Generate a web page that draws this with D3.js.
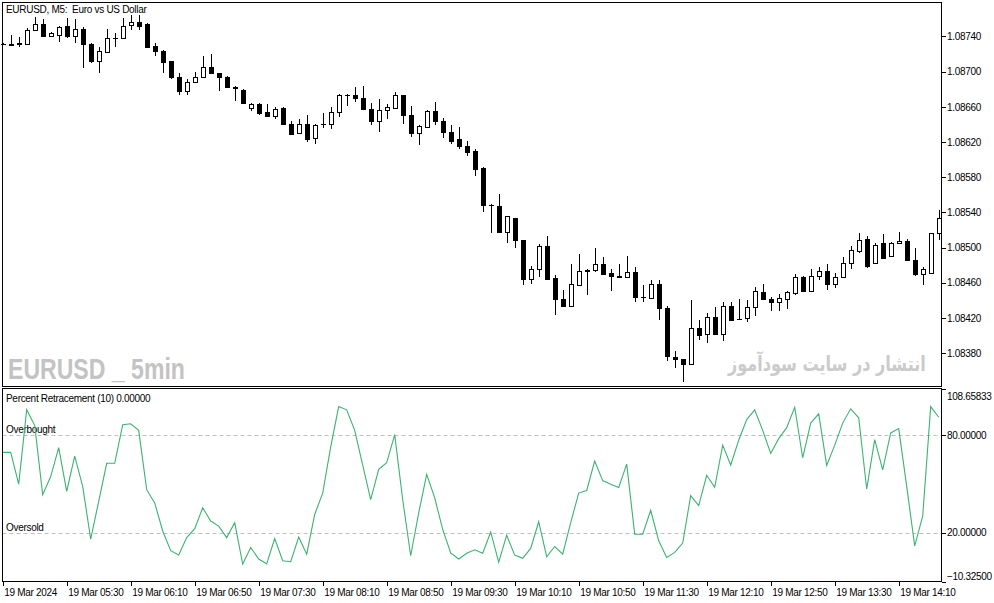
<!DOCTYPE html>
<html>
<head>
<meta charset="utf-8">
<script src="https://cdn.jsdelivr.net/npm/d3@7"></script>
<style>
	body { margin: 0; background: #fff; }
	svg text { font-family: "Liberation Sans", Arial, sans-serif; font-size: 10px; letter-spacing: -0.3px; fill: #000; }
</style>
</head>
<body>
<div class="container"></div>
<script>
var	WIDTH = 994,
	HEIGHT = 603,
	LEFT = 2.5,
	RIGHT = 941.5,
	MAIN_TOP = 2.5,
	MAIN_BOTTOM = 386.5,
	IND_TOP = 388.5,
	IND_BOTTOM = 581.5,
	xScale,
	yPrice,
	yInd;

// EURUSD M5 candles, 19 Mar 2024 04:50 .. 14:35
var openPrices = [
	1.08731, 1.08731, 1.08733, 1.08732, 1.08747, 1.08754, 1.08741, 1.08742, 1.08752, 1.08740,
	1.08748, 1.08731, 1.08712, 1.08722, 1.08738, 1.08738, 1.08753, 1.08756, 1.08754, 1.08729,
	1.08724, 1.08712, 1.08694, 1.08678, 1.08688, 1.08694, 1.08705, 1.08698, 1.08694, 1.08683,
	1.08679, 1.08659, 1.08663, 1.08654, 1.08649, 1.08659, 1.08641, 1.08630, 1.08640, 1.08624,
	1.08640, 1.08640, 1.08654, 1.08674, 1.08674, 1.08670, 1.08657, 1.08644, 1.08656, 1.08659,
	1.08674, 1.08651, 1.08630, 1.08637, 1.08655, 1.08644, 1.08631, 1.08623, 1.08615, 1.08610,
	1.08590, 1.08548, 1.08547, 1.08518, 1.08534, 1.08508, 1.08464, 1.08475, 1.08502, 1.08465,
	1.08442, 1.08433, 1.08457, 1.08474, 1.08474, 1.08481, 1.08471, 1.08468, 1.08466, 1.08472,
	1.08444, 1.08443, 1.08458, 1.08431, 1.08375, 1.08373, 1.08367, 1.08409, 1.08402, 1.08421,
	1.08402, 1.08433, 1.08419, 1.08420, 1.08432, 1.08449, 1.08441, 1.08438, 1.08441, 1.08448,
	1.08467, 1.08450, 1.08468, 1.08473, 1.08458, 1.08467, 1.08482, 1.08496, 1.08510, 1.08482,
	1.08505, 1.08490, 1.08505, 1.08507, 1.08486, 1.08470, 1.08471, 1.08516
];
var highPrices = [
	1.08733, 1.08742, 1.08739, 1.08750, 1.08762, 1.08760, 1.08745, 1.08752, 1.08761, 1.08760,
	1.08751, 1.08733, 1.08728, 1.08748, 1.08744, 1.08761, 1.08764, 1.08764, 1.08755, 1.08733,
	1.08725, 1.08712, 1.08699, 1.08692, 1.08700, 1.08718, 1.08720, 1.08699, 1.08695, 1.08684,
	1.08680, 1.08664, 1.08664, 1.08663, 1.08660, 1.08660, 1.08644, 1.08646, 1.08651, 1.08640,
	1.08653, 1.08660, 1.08675, 1.08675, 1.08682, 1.08684, 1.08664, 1.08669, 1.08663, 1.08677,
	1.08674, 1.08661, 1.08639, 1.08656, 1.08665, 1.08647, 1.08639, 1.08637, 1.08621, 1.08612,
	1.08592, 1.08550, 1.08561, 1.08536, 1.08534, 1.08509, 1.08479, 1.08504, 1.08513, 1.08469,
	1.08452, 1.08481, 1.08493, 1.08476, 1.08500, 1.08489, 1.08476, 1.08481, 1.08490, 1.08478,
	1.08457, 1.08463, 1.08463, 1.08433, 1.08382, 1.08373, 1.08440, 1.08418, 1.08426, 1.08432,
	1.08438, 1.08438, 1.08442, 1.08440, 1.08455, 1.08458, 1.08444, 1.08447, 1.08450, 1.08470,
	1.08468, 1.08476, 1.08478, 1.08481, 1.08471, 1.08489, 1.08502, 1.08517, 1.08513, 1.08505,
	1.08515, 1.08506, 1.08518, 1.08510, 1.08499, 1.08478, 1.08517, 1.08543
];
var lowPrices = [
	1.08730, 1.08730, 1.08728, 1.08730, 1.08747, 1.08740, 1.08739, 1.08734, 1.08738, 1.08733,
	1.08704, 1.08710, 1.08699, 1.08722, 1.08728, 1.08737, 1.08747, 1.08747, 1.08727, 1.08718,
	1.08698, 1.08692, 1.08673, 1.08673, 1.08688, 1.08694, 1.08698, 1.08678, 1.08683, 1.08667,
	1.08664, 1.08655, 1.08651, 1.08649, 1.08646, 1.08639, 1.08628, 1.08630, 1.08620, 1.08618,
	1.08636, 1.08635, 1.08648, 1.08661, 1.08666, 1.08657, 1.08639, 1.08631, 1.08646, 1.08658,
	1.08640, 1.08626, 1.08617, 1.08637, 1.08639, 1.08625, 1.08618, 1.08612, 1.08604, 1.08581,
	1.08540, 1.08516, 1.08518, 1.08505, 1.08500, 1.08457, 1.08458, 1.08467, 1.08464, 1.08423,
	1.08433, 1.08432, 1.08457, 1.08446, 1.08472, 1.08469, 1.08450, 1.08465, 1.08465, 1.08438,
	1.08438, 1.08442, 1.08418, 1.08371, 1.08363, 1.08347, 1.08367, 1.08395, 1.08391, 1.08402,
	1.08394, 1.08418, 1.08419, 1.08415, 1.08422, 1.08441, 1.08428, 1.08428, 1.08430, 1.08446,
	1.08449, 1.08449, 1.08463, 1.08452, 1.08454, 1.08467, 1.08475, 1.08494, 1.08477, 1.08482,
	1.08487, 1.08489, 1.08505, 1.08486, 1.08468, 1.08457, 1.08471, 1.08509
];
var closePrices = [
	1.08731, 1.08732, 1.08731, 1.08747, 1.08754, 1.08740, 1.08744, 1.08751, 1.08741, 1.08749,
	1.08731, 1.08712, 1.08723, 1.08738, 1.08738, 1.08752, 1.08756, 1.08752, 1.08728, 1.08724,
	1.08711, 1.08694, 1.08678, 1.08688, 1.08694, 1.08705, 1.08698, 1.08694, 1.08683, 1.08682,
	1.08664, 1.08663, 1.08653, 1.08649, 1.08657, 1.08640, 1.08629, 1.08640, 1.08623, 1.08639,
	1.08640, 1.08654, 1.08674, 1.08674, 1.08670, 1.08657, 1.08644, 1.08656, 1.08660, 1.08674,
	1.08651, 1.08630, 1.08638, 1.08655, 1.08644, 1.08631, 1.08621, 1.08615, 1.08609, 1.08589,
	1.08548, 1.08548, 1.08518, 1.08536, 1.08508, 1.08464, 1.08476, 1.08502, 1.08464, 1.08442,
	1.08433, 1.08458, 1.08473, 1.08473, 1.08481, 1.08470, 1.08468, 1.08466, 1.08472, 1.08444,
	1.08444, 1.08459, 1.08431, 1.08377, 1.08373, 1.08367, 1.08409, 1.08400, 1.08421, 1.08402,
	1.08433, 1.08418, 1.08419, 1.08432, 1.08450, 1.08441, 1.08438, 1.08443, 1.08449, 1.08467,
	1.08450, 1.08468, 1.08473, 1.08458, 1.08467, 1.08482, 1.08497, 1.08509, 1.08479, 1.08503,
	1.08488, 1.08505, 1.08507, 1.08486, 1.08470, 1.08476, 1.08516, 1.08534
];

// Percent Retracement (10)
var retracement = [
	69.5, 69.5, 49.9, 95.9, 86.2, 43.4, 54.6, 72.5, 45.4, 67.2,
	48.5, 15.9, 39.3, 62.8, 62.8, 86.6, 87.2, 83.1, 46.5, 38.3,
	21.0, 8.8, 6.1, 16.9, 22.4, 35.3, 27.1, 24.0, 16.9, 26.1,
	0.6, 10.8, 3.7, 0.6, 16.3, 2.6, 2.0, 17.3, 6.7, 31.2,
	44.4, 72.9, 97.8, 95.8, 83.1, 61.7, 40.3, 59.1, 63.1, 80.5,
	40.3, 5.7, 32.2, 56.0, 41.4, 22.0, 7.4, 3.7, 7.2, 9.4,
	7.2, 20.4, 1.7, 18.4, 6.1, 4.1, 10.2, 26.7, 5.1, 11.4,
	6.7, 26.1, 44.4, 46.0, 64.2, 52.1, 49.9, 47.9, 62.3, 19.0,
	19.0, 33.8, 14.9, 4.7, 7.8, 13.5, 42.8, 36.7, 55.4, 47.9,
	74.0, 61.7, 77.0, 89.8, 95.8, 83.1, 68.9, 78.0, 84.8, 97.4,
	66.2, 87.6, 93.3, 61.5, 74.0, 87.6, 96.4, 90.9, 46.9, 77.4,
	58.7, 81.5, 84.2, 48.5, 11.8, 30.1, 97.8, 91.2
];

var priceTicks = [1.08380, 1.08420, 1.08460, 1.08500, 1.08540, 1.08580, 1.08620, 1.08660, 1.08700, 1.08740];
var levelTicks = [108.65833, 80, 20, -10.325];
var levelValues = [80, 20];
var levelNames = ['Overbought', 'Oversold'];
var timeTickIdx = [0, 8, 16, 24, 32, 40, 48, 56, 64, 72, 80, 88, 96, 104, 112];
var timeTickLabels = ['19 Mar 2024', '19 Mar 05:30', '19 Mar 06:10', '19 Mar 06:50', '19 Mar 07:30',
	'19 Mar 08:10', '19 Mar 08:50', '19 Mar 09:30', '19 Mar 10:10', '19 Mar 10:50',
	'19 Mar 11:30', '19 Mar 12:10', '19 Mar 12:50', '19 Mar 13:30', '19 Mar 14:10'];

function translate(x, y) {
	return 'translate(' + x + ',' + y + ')';
}

// draw a text and squeeze it horizontally to a given width
function fitText(svg, str, x, y, width, size, family, color) {
	var t = svg.append('text')
		.style('font-size', size + 'px')
		.style('font-weight', 'bold')
		.style('letter-spacing', '0px')
		.style('fill', color)
		.text(str);
	if (family) t.style('font-family', family);
	var w = t.node().getComputedTextLength();
	t.attr('transform', translate(x, y) + ' scale(' + (width / w) + ',1)');
	return t;
}

function createChart() {
	var svg = d3.select('.container').append('svg')
		.attr('width', WIDTH)
		.attr('height', HEIGHT)
		.style('display', 'block');

	xScale = d3.scaleLinear()
		.domain([0, openPrices.length - 1])
		.range([2.7, 938.7]);

	yPrice = d3.scaleLinear()
		.domain([1.083417, 1.087792])
		.range([386.7, 2]);

	yInd = d3.scaleLinear()
		.domain([-10.325, 108.65833])
		.range([581.7, 389]);

	// watermarks
	fitText(svg, 'EURUSD _ 5min', 8, 378.5, 177, 30, null, '#c3c3c3');
	fitText(svg, 'انتشار در سایت سودآموز', 728, 371, 198, 21, '"DejaVu Sans", sans-serif', '#cbcbcb');

	// candles
	var candles = svg.append('g')
		.attr('shape-rendering', 'crispEdges');

	var idx = d3.range(openPrices.length);

	candles.selectAll('.wick')
		.data(idx).enter()
		.append('line')
		.attr('x1', function(i) {return Math.round(xScale(i)) + 0.5})
		.attr('x2', function(i) {return Math.round(xScale(i)) + 0.5})
		.attr('y1', function(i) {return yPrice(highPrices[i])})
		.attr('y2', function(i) {return yPrice(lowPrices[i])})
		.attr('stroke', '#000');

	candles.selectAll('.body')
		.data(idx.filter(function(i) {return openPrices[i] !== closePrices[i]})).enter()
		.append('rect')
		.attr('x', function(i) {return Math.round(xScale(i)) - 1.5})
		.attr('width', 4)
		.attr('y', function(i) {return Math.round(yPrice(Math.max(openPrices[i], closePrices[i]))) + 0.5})
		.attr('height', function(i) {
			return Math.max(1, Math.round(yPrice(Math.min(openPrices[i], closePrices[i]))) - Math.round(yPrice(Math.max(openPrices[i], closePrices[i]))));
		})
		.attr('fill', function(i) {return closePrices[i] > openPrices[i] ? '#fff' : '#000'})
		.attr('stroke', '#000');

	candles.selectAll('.doji')
		.data(idx.filter(function(i) {return openPrices[i] === closePrices[i]})).enter()
		.append('line')
		.attr('x1', function(i) {return Math.round(xScale(i)) - 2})
		.attr('x2', function(i) {return Math.round(xScale(i)) + 3})
		.attr('y1', function(i) {return Math.round(yPrice(openPrices[i])) + 0.5})
		.attr('y2', function(i) {return Math.round(yPrice(openPrices[i])) + 0.5})
		.attr('stroke', '#000');

	// indicator levels
	svg.selectAll('.level')
		.data(levelValues).enter()
		.append('line')
		.attr('x1', LEFT)
		.attr('x2', RIGHT)
		.attr('y1', function(d) {return Math.round(yInd(d)) + 0.5})
		.attr('y2', function(d) {return Math.round(yInd(d)) + 0.5})
		.attr('stroke', '#c0c0c0')
		.attr('stroke-dasharray', '4,3');

	svg.selectAll('.levelName')
		.data(levelValues).enter()
		.append('text')
		.attr('x', 6)
		.attr('y', function(d) {return yInd(d) - 2})
		.text(function(d, i) {return levelNames[i]});

	var line = d3.line()
		.x(function(d, i) {return xScale(i)})
		.y(function(d) {return yInd(d)});

	svg.append('path')
		.datum(retracement)
		.attr('d', line)
		.attr('fill', 'none')
		.attr('stroke', '#3cb371')
		.attr('stroke-width', 1.1);

	// frames
	svg.append('rect')
		.attr('x', LEFT).attr('y', MAIN_TOP)
		.attr('width', RIGHT - LEFT).attr('height', MAIN_BOTTOM - MAIN_TOP)
		.attr('fill', 'none').attr('stroke', '#000')
		.attr('shape-rendering', 'crispEdges');

	svg.append('rect')
		.attr('x', LEFT).attr('y', IND_TOP)
		.attr('width', RIGHT - LEFT).attr('height', IND_BOTTOM - IND_TOP)
		.attr('fill', 'none').attr('stroke', '#000')
		.attr('shape-rendering', 'crispEdges');

	// axes
	var priceAxis = d3.axisRight(yPrice)
		.tickValues(priceTicks)
		.tickSize(4)
		.tickPadding(1.5)
		.tickFormat(d3.format('.5f'));

	svg.append('g')
		.attr('transform', translate(RIGHT, 0))
		.call(priceAxis)
		.call(function(g) {g.select('.domain').remove()})
		.attr('font-family', null)
		.attr('font-size', null);

	var indAxis = d3.axisRight(yInd)
		.tickValues(levelTicks)
		.tickSize(4)
		.tickPadding(1.5)
		.tickFormat(d3.format('.5f'));

	var indAxisGroup = svg.append('g')
		.attr('transform', translate(RIGHT, 0))
		.call(indAxis)
		.call(function(g) {g.select('.domain').remove()})
		.attr('font-family', null)
		.attr('font-size', null);

	indAxisGroup.selectAll('.tick text')
		.attr('dy', function(d, i) {
			if (i === 0) return '1.05em';
			if (i === levelTicks.length - 1) return '-0.18em';
			return '0.32em';
		});

	var timeAxis = d3.axisBottom(xScale)
		.tickValues(timeTickIdx)
		.tickSize(4)
		.tickPadding(3)
		.tickFormat(function(d, i) {return timeTickLabels[i]});

	svg.append('g')
		.attr('transform', translate(0, IND_BOTTOM))
		.call(timeAxis)
		.call(function(g) {g.select('.domain').remove()})
		.attr('font-family', null)
		.attr('font-size', null)
		.selectAll('.tick text')
		.attr('text-anchor', 'start')
		.attr('x', 1);

	svg.selectAll('.tick line').attr('shape-rendering', 'crispEdges');

	// titles
	svg.append('text')
		.attr('x', 6)
		.attr('y', 13)
		.text('EURUSD, M5:  Euro vs US Dollar')
		.attr('xml:space', 'preserve');

	svg.append('text')
		.attr('x', 6)
		.attr('y', 401.5)
		.text('Percent Retracement (10) 0.00000');
}

window.onload = function() {
	createChart();
}
</script>
</body>
</html>
